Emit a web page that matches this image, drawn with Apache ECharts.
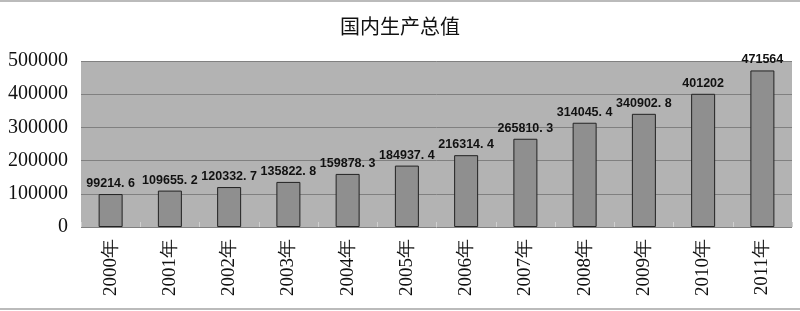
<!DOCTYPE html>
<html><head><meta charset="utf-8">
<script src="https://cdn.jsdelivr.net/npm/echarts@6/dist/echarts.min.js"></script>
<style>html,body{margin:0;padding:0;background:#fff}#c{width:800px;height:311px}</style>
</head><body><div id="c"></div>
<script>
var categories = ['2000年','2001年','2002年','2003年','2004年','2005年','2006年','2007年','2008年','2009年','2010年','2011年'];
var gdpValues = [99214.6, 109655.2, 120332.7, 135822.8, 159878.3, 184937.4, 216314.4, 265810.3, 314045.4, 340902.8, 401202, 471564];
var yTicks = {min: 0, max: 500000, interval: 100000};

var chart = echarts.init(document.getElementById('c'));
chart.setOption({
  animation: false,
  backgroundColor: '#fff',
  title: {
    text: '国内生产总值', left: 'center', top: 11,
    textStyle: {fontFamily: 'Noto Sans CJK SC', fontSize: 20, fontWeight: 'normal', color: '#111'}
  },
  grid: {left: 81, right: 8, top: 61, bottom: 84, show: true, backgroundColor: '#b3b3b3', borderWidth: 0},
  xAxis: {
    type: 'category', data: categories,
    axisLine: {show: false},
    axisTick: {show: true, inside: true, length: 5, lineStyle: {color: '#d0d0d0'}},
    axisLabel: {rotate: 90, margin: 12, fontFamily: 'Liberation Serif', fontSize: 19, color: '#111'}
  },
  yAxis: {
    type: 'value', min: yTicks.min, max: yTicks.max, interval: yTicks.interval,
    axisLine: {show: false}, axisTick: {show: false},
    axisLabel: {margin: 13, fontFamily: 'Liberation Serif', fontSize: 20, color: '#111',
      formatter: function (v) { return String(v); }},
    splitLine: {lineStyle: {color: '#808080', width: 1}}
  },
  series: [{
    type: 'bar', data: gdpValues, barWidth: 24,
    itemStyle: {color: '#8f8f8f', borderColor: '#222', borderWidth: 1},
    label: {
      show: true, position: 'top', distance: 4,
      fontFamily: 'Liberation Sans', fontWeight: 'bold', fontSize: 12.5, color: '#111',
      formatter: function (p) { return String(p.value).replace('.', '. '); }
    }
  }],
  graphic: [
    {type: 'line', shape: {x1: 0, y1: 1, x2: 800, y2: 1}, style: {stroke: '#bbb', lineWidth: 2}},
    {type: 'line', shape: {x1: 0, y1: 309, x2: 800, y2: 309}, style: {stroke: '#bbb', lineWidth: 2}}
  ]
});
</script></body></html>
